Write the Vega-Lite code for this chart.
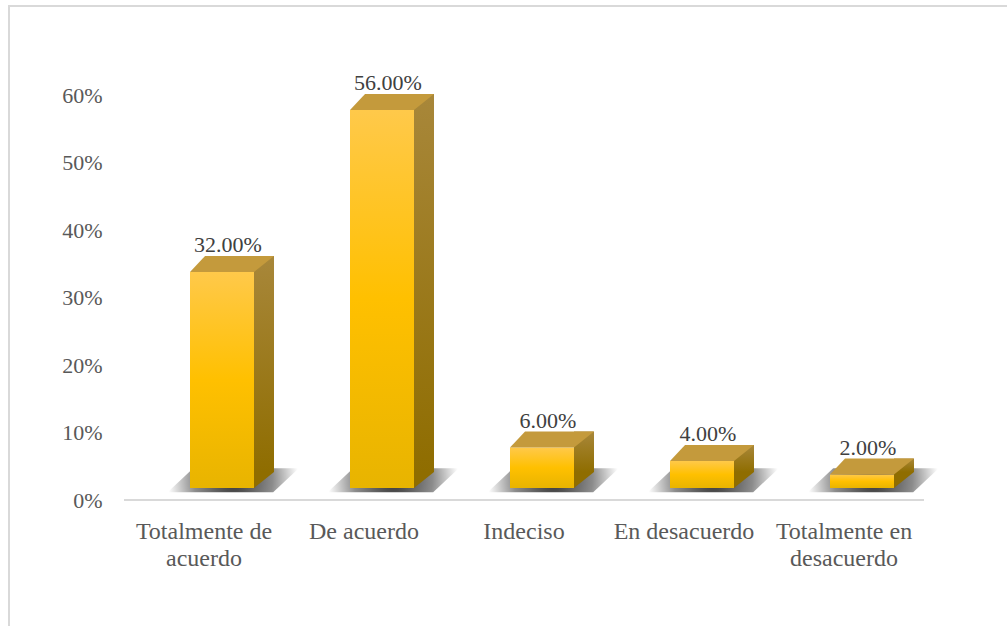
{
  "$schema": "https://vega.github.io/schema/vega-lite/v6.json",
  "width": 1030,
  "height": 634,
  "autosize": {"type": "none"},
  "padding": {"left": 9, "top": 6, "right": 0, "bottom": 0},
  "background": "white",
  "config": {
    "view": {"stroke": "#d9d9d9", "strokeWidth": 2},
    "font": "Liberation Serif"
  },
  "data": {
    "values": [
      {"categoria": "Totalmente de acuerdo", "valor": 0.32},
      {"categoria": "De acuerdo", "valor": 0.56},
      {"categoria": "Indeciso", "valor": 0.06},
      {"categoria": "En desacuerdo", "valor": 0.04},
      {"categoria": "Totalmente en desacuerdo", "valor": 0.02}
    ]
  },
  "layer": [
    {
      "mark": {
        "type": "point",
        "shape": "M -1.7 0.13 L 1.6 0.13 L 2.4 -0.62 L -0.9 -0.62 Z",
        "size": 4096,
        "filled": true,
        "opacity": 1,
        "strokeWidth": 0,
        "xOffset": 18,
        "yOffset": -12,
        "fill": {
          "gradient": "radial",
          "x1": 0.5, "y1": 0.5, "r1": 0,
          "x2": 0.5, "y2": 0.5, "r2": 0.5,
          "stops": [
            {"offset": 0, "color": "#333333"},
            {"offset": 0.6, "color": "#8c8c8c"},
            {"offset": 1, "color": "#ffffff"}
          ]
        }
      },
      "encoding": {
        "x": {
          "field": "categoria",
          "type": "nominal",
          "scale": {
            "domain": ["Totalmente de acuerdo", "De acuerdo", "Indeciso", "En desacuerdo", "Totalmente en desacuerdo"],
            "paddingInner": 0,
            "paddingOuter": 0.71875
          },
          "axis": {
            "orient": "bottom",
            "offset": -140,
            "domain": false,
            "ticks": false,
            "grid": false,
            "title": null,
            "labelAngle": 0,
            "labelPadding": 19,
            "labelFont": "Liberation Serif",
            "labelFontSize": 24,
            "labelColor": "#595959",
            "labelLineHeight": 27,
            "labelOverlap": false,
            "labelLimit": 300,
            "labelExpr": "datum.value == 'Totalmente de acuerdo' ? ['Totalmente de', 'acuerdo'] : datum.value == 'Totalmente en desacuerdo' ? ['Totalmente en', 'desacuerdo'] : datum.value"
          }
        },
        "y": {
          "datum": 0,
          "type": "quantitative",
          "scale": {"domain": [-0.207407, 0.731852], "nice": false, "zero": false},
          "axis": {
            "values": [0, 0.1, 0.2, 0.3, 0.4, 0.5, 0.6],
            "format": ".0%",
            "domain": false,
            "ticks": false,
            "grid": false,
            "title": null,
            "offset": -93,
            "labelPadding": 0,
            "labelFont": "Liberation Serif",
            "labelFontSize": 22,
            "labelColor": "#595959"
          }
        }
      }
    },
    {
      "mark": {
        "type": "bar",
        "width": 20,
        "xOffset": 60,
        "yOffset": -28,
        "y2Offset": -28,
        "fill": {
          "gradient": "linear",
          "x1": 0, "y1": 0, "x2": 0, "y2": 1,
          "stops": [
            {"offset": 0, "color": "#a8873a"},
            {"offset": 1, "color": "#8f6d00"}
          ]
        }
      },
      "encoding": {
        "x": {"field": "categoria", "type": "nominal"},
        "y": {"field": "valor", "type": "quantitative"},
        "y2": {"datum": 0}
      }
    },
    {
      "mark": {
        "type": "point",
        "shape": "M 1 0 L 1 -0.5 L 1.625 -0.5 Z",
        "size": 4096,
        "filled": true,
        "opacity": 1,
        "strokeWidth": 0,
        "xOffset": 18,
        "yOffset": -12,
        "fill": "#8f6d00"
      },
      "encoding": {
        "x": {"field": "categoria", "type": "nominal"},
        "y": {"datum": 0, "type": "quantitative"}
      }
    },
    {
      "mark": {
        "type": "bar",
        "width": 64,
        "xOffset": 18,
        "yOffset": -12,
        "y2Offset": -12,
        "fill": {
          "gradient": "linear",
          "x1": 0, "y1": 0, "x2": 0, "y2": 1,
          "stops": [
            {"offset": 0, "color": "#ffc94a"},
            {"offset": 0.5, "color": "#ffc000"},
            {"offset": 1, "color": "#e8b400"}
          ]
        }
      },
      "encoding": {
        "x": {"field": "categoria", "type": "nominal"},
        "y": {"field": "valor", "type": "quantitative"},
        "y2": {"datum": 0}
      }
    },
    {
      "mark": {
        "type": "point",
        "shape": "M -1 0 L 1 0 L 1.625 -0.5 L -0.53 -0.5 Z",
        "size": 4096,
        "filled": true,
        "opacity": 1,
        "strokeWidth": 0,
        "xOffset": 18,
        "yOffset": -12,
        "fill": "#c49a3c"
      },
      "encoding": {
        "x": {"field": "categoria", "type": "nominal"},
        "y": {"field": "valor", "type": "quantitative"}
      }
    },
    {
      "mark": {
        "type": "text",
        "xOffset": 24,
        "yOffset": -32,
        "baseline": "alphabetic",
        "font": "Liberation Serif",
        "fontSize": 22,
        "fill": "#404040"
      },
      "encoding": {
        "x": {"field": "categoria", "type": "nominal"},
        "y": {"field": "valor", "type": "quantitative"},
        "text": {"field": "valor", "type": "quantitative", "format": ".2%"}
      }
    },
    {
      "data": {"values": [{"inicio": "Totalmente de acuerdo", "fin": "Totalmente en desacuerdo"}]},
      "mark": {
        "type": "rule",
        "stroke": "#d9d9d9",
        "strokeWidth": 2,
        "xOffset": -80,
        "x2Offset": 80
      },
      "encoding": {
        "x": {"field": "inicio", "type": "nominal"},
        "x2": {"field": "fin"},
        "y": {"datum": 0, "type": "quantitative"}
      }
    }
  ]
}
